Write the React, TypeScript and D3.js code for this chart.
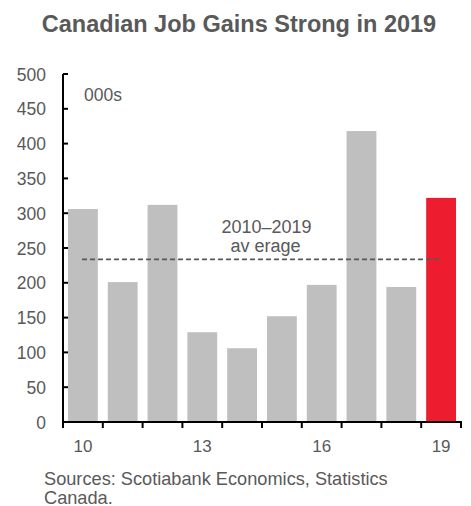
import React from "react";
import * as d3 from "d3";

const years = ["10", "11", "12", "13", "14", "15", "16", "17", "18", "19"];
const gains = [306, 201, 312, 129, 106, 152, 197, 418, 194, 322];
const yTicks = [0, 50, 100, 150, 200, 250, 300, 350, 400, 450, 500];
const xLabels = ["10", "13", "16", "19"];

export default function App() {
  const W = 471, H = 506;
  const left = 63, right = 461, top = 74, bottom = 422;
  const x = d3.scaleBand<string>().domain(years).range([left, right]).paddingInner(0.25).paddingOuter(0.125);
  const xb = d3.scaleBand<string>().domain(years).range([left, right]);
  const y = d3.scaleLinear().domain([0, 500]).range([bottom, top]);
  const avg = d3.mean(gains) as number;
  const font = "'Liberation Sans', Arial, sans-serif";
  const grey = "#595959";
  return (
    <svg width={W} height={H} style={{ position: "absolute", left: 0, top: 0 }} fontFamily={font}>
      <text x={239} y={32} textAnchor="middle" fontSize={23.5} fontWeight="bold" fill={grey}>
        Canadian Job Gains Strong in 2019
      </text>
      {gains.map((v, i) => (
        <rect key={i} x={x(years[i])} y={y(v)} width={x.bandwidth()} height={bottom - y(v)}
          fill={i === gains.length - 1 ? "#ED1C2E" : "#BFBFBF"} />
      ))}
      <line x1={82} x2={439} y1={y(avg)} y2={y(avg)} stroke={grey} strokeWidth={1.8} strokeDasharray="5,3" />
      <text x={266.5} y={233} textAnchor="middle" fontSize={18} fill={grey}>2010–2019</text>
      <text x={265.5} y={252} textAnchor="middle" fontSize={18} fill={grey}>av erage</text>
      <text x={84} y={101} fontSize={17.5} fill={grey}>000s</text>
      <line x1={left} x2={left} y1={top} y2={bottom} stroke="#000" strokeWidth={2} />
      {yTicks.map((t) => (
        <g key={t}>
          <line x1={left} x2={left + 5} y1={y(t)} y2={y(t)} stroke="#000" strokeWidth={2} />
          <text x={46} y={y(t) + 6.5} textAnchor="end" fontSize={17.5} fill={grey}>{t}</text>
        </g>
      ))}
      <line x1={left - 1} x2={right + 1} y1={bottom} y2={bottom} stroke="#000" strokeWidth={2} />
      {years.map((yr) => (
        <line key={yr} x1={xb(yr)} x2={xb(yr)} y1={bottom} y2={bottom + 6} stroke="#000" strokeWidth={2} />
      ))}
      <line x1={right} x2={right} y1={bottom} y2={bottom + 6} stroke="#000" strokeWidth={2} />
      {xLabels.map((l) => (
        <text key={l} x={(x(l) as number) + x.bandwidth() / 2} y={452} textAnchor="middle" fontSize={17} fill={grey}>{l}</text>
      ))}
      <text x={44} y={485} fontSize={18.2} fill={grey}>Sources: Scotiabank Economics, Statistics</text>
      <text x={44} y={503.5} fontSize={18.2} fill={grey}>Canada.</text>
    </svg>
  );
}
